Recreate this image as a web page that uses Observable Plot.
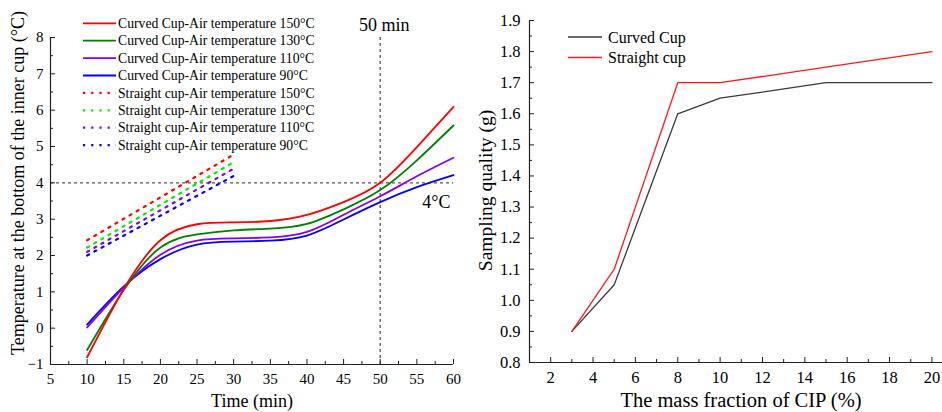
<!DOCTYPE html>
<html><head><meta charset="utf-8">
<script src="https://cdn.jsdelivr.net/npm/d3@7"></script>
<script src="https://cdn.jsdelivr.net/npm/@observablehq/plot@0.6"></script>
<style>
body{margin:0;background:#fff;}
#wrap{display:flex;width:942px;height:412px;overflow:hidden;}
</style></head><body><div id="wrap"><div id="left"></div><div id="right"></div></div>
<script>
// ---------- Left panel data ----------
const timeMin = [10, 15, 20, 25, 30, 35, 40, 45, 50, 55, 60];
const curved150 = [-0.8, 1.08, 2.42, 2.86, 2.91, 2.95, 3.12, 3.47, 4.0, 4.98, 6.09];
const curved130 = [-0.6, 1.05, 2.22, 2.58, 2.69, 2.74, 2.87, 3.27, 3.8, 4.62, 5.58];
const curved110 = [0.02, 1.12, 2.02, 2.41, 2.47, 2.5, 2.65, 3.12, 3.63, 4.18, 4.69];
const curved90  = [0.1, 1.15, 1.9, 2.3, 2.38, 2.41, 2.55, 2.99, 3.47, 3.88, 4.21];
const straightTime = [10, 30];
const straight150 = [2.42, 4.78];
const straight130 = [2.22, 4.57];
const straight110 = [2.1, 4.39];
const straight90  = [2.0, 4.19];
const leftXTicks = [5, 10, 15, 20, 25, 30, 35, 40, 45, 50, 55, 60];
const leftYTicks = [-1, 0, 1, 2, 3, 4, 5, 6, 7, 8];
const refTime = 50, refTemp = 4;
const leftLegend = [
  "Curved Cup-Air temperature 150°C", "Curved Cup-Air temperature 130°C",
  "Curved Cup-Air temperature 110°C", "Curved Cup-Air temperature 90°C",
  "Straight cup-Air temperature 150°C", "Straight cup-Air temperature 130°C",
  "Straight cup-Air temperature 110°C", "Straight cup-Air temperature 90°C"
];
const curvedColors = ["#ff0000", "#008000", "#8000ff", "#0000ff"];
const straightColors = ["#ff0000", "#00ee00", "#8000ff", "#0000ff"];

// ---------- Right panel data ----------
const cipFraction = [3, 5, 8, 10, 15, 20];
const curvedCupMass = [0.9, 1.05, 1.6, 1.65, 1.7, 1.7];
const straightCupMass = [0.9, 1.1, 1.7, 1.7, 1.75, 1.8];
const rightXTicks = [2, 4, 6, 8, 10, 12, 14, 16, 18, 20];
const rightYTicks = [0.8, 0.9, 1.0, 1.1, 1.2, 1.3, 1.4, 1.5, 1.6, 1.7, 1.8, 1.9];
const rightLegend = ["Curved Cup", "Straight cup"];
const rightColors = ["#3a3a3a", "#ff1a1a"];

const FONT = "'Liberation Serif','Times New Roman',serif";
const AX = "#222";

function toRows(xs, ys) { return xs.map((x, i) => ({x, y: ys[i]})); }
const minus = d => d < 0 ? "\u2212" + Math.abs(d) : String(d);

function addLegend(svg, items, o) {
  const g = d3.select(svg).append("g").attr("text-anchor", "start");
  items.forEach((it, i) => {
    const y = o.y0 + i * o.dy;
    g.append("line").attr("x1", o.x0).attr("x2", o.x1).attr("y1", y).attr("y2", y)
      .attr("stroke", it.color).attr("stroke-width", it.width)
      .attr("stroke-dasharray", it.dash || null);
    g.append("text").attr("x", o.tx).attr("y", y).attr("dy", "0.35em")
      .attr("text-anchor", "start")
      .attr("font-size", o.fontSize).attr("font-family", FONT).attr("fill", "#000")
      .text(it.label);
  });
}

// ---------- Left plot ----------
const curvedSets = [curved150, curved130, curved110, curved90];
const straightSets = [straight150, straight130, straight110, straight90];
const leftMinorX = d3.range(7.5, 60, 5);
const leftMinorY = d3.range(-0.5, 8, 1);

const left = Plot.plot({
  width: 470, height: 412,
  marginLeft: 50, marginRight: 17, marginTop: 37, marginBottom: 48,
  x: {domain: [5, 60]},
  y: {domain: [-1, 8]},
  style: {fontFamily: FONT, fontSize: "15px", color: "#000", background: "#fff"},
  marks: [
    Plot.ruleY([refTemp], {stroke: "#555", strokeWidth: 1.3, strokeDasharray: "3,3"}),
    Plot.ruleX([refTime], {stroke: "#555", strokeWidth: 1.3, strokeDasharray: "3,3"}),
    ...straightSets.map((s, i) => Plot.line(toRows(straightTime, s), {x: "x", y: "y", stroke: straightColors[i], strokeWidth: 2.2, strokeDasharray: "2.2,6"})),
    ...curvedSets.map((s, i) => Plot.line(toRows(timeMin, s), {x: "x", y: "y", stroke: curvedColors[i], strokeWidth: 1.8, curve: "natural"})).reverse(),
    Plot.ruleX([5], {stroke: AX, strokeWidth: 1.2}),
    Plot.ruleY([-1], {stroke: AX, strokeWidth: 1.2}),
    Plot.axisX(leftXTicks, {tickSize: 0, tickPadding: 9, label: null, fontSize: 15}),
    Plot.axisX(leftXTicks, {tickSize: -5, tickFormat: () => "", label: null, stroke: AX}),
    Plot.axisX(leftMinorX, {tickSize: -3, tickFormat: () => "", label: null, stroke: AX}),
    Plot.axisY(leftYTicks, {tickSize: 0, tickPadding: 7, label: null, fontSize: 15, tickFormat: minus}),
    Plot.axisY(leftYTicks, {tickSize: -5, tickFormat: () => "", label: null, stroke: AX}),
    Plot.axisY(leftMinorY, {tickSize: -3, tickFormat: () => "", label: null, stroke: AX}),
    Plot.text(["Time (min)"], {frameAnchor: "bottom", lineAnchor: "middle", textAnchor: "middle", dy: 37, fontSize: 18}),
    Plot.text(["Temperature at the bottom of the inner cup (°C)"], {frameAnchor: "left", textAnchor: "middle", lineAnchor: "middle", rotate: -90, dx: -32, dy: -18, fontSize: 18}),
    Plot.text([{x: refTime, y: 8, t: "50 min"}], {x: "x", y: "y", text: "t", dx: 4, dy: -12, fontSize: 18}),
    Plot.text([{x: 60, y: refTemp, t: "4°C"}], {x: "x", y: "y", text: "t", textAnchor: "end", dx: -3, dy: 19, fontSize: 18})
  ]
});
addLegend(left, leftLegend.map((label, i) => i < 4
  ? {label, color: curvedColors[i], width: 1.8}
  : {label, color: straightColors[i - 4], width: 2.2, dash: "2.2,6"}),
  {x0: 83, x1: 116, tx: 118, y0: 23.3, dy: 17.4, fontSize: "13.7px"});
document.getElementById("left").appendChild(left);

// ---------- Right plot ----------
const rightMinorX = d3.range(1, 21, 2);
const rightMinorY = d3.range(0.85, 1.9, 0.1);
const right = Plot.plot({
  width: 472, height: 412,
  marginLeft: 59, marginRight: 0, marginTop: 20, marginBottom: 50,
  x: {domain: [1, 20.5]},
  y: {domain: [0.8, 1.9]},
  style: {fontFamily: FONT, fontSize: "16px", color: "#000", background: "#fff"},
  marks: [
    Plot.line(toRows(cipFraction, curvedCupMass), {x: "x", y: "y", stroke: rightColors[0], strokeWidth: 1.3}),
    Plot.line(toRows(cipFraction, straightCupMass), {x: "x", y: "y", stroke: rightColors[1], strokeWidth: 1.3}),
    Plot.ruleX([1], {stroke: AX, strokeWidth: 1.2}),
    Plot.ruleY([0.8], {stroke: AX, strokeWidth: 1.2}),
    Plot.axisX(rightXTicks, {tickSize: 0, tickPadding: 9, label: null, fontSize: 16.5}),
    Plot.axisX(rightXTicks, {tickSize: -5, tickFormat: () => "", label: null, stroke: AX}),
    Plot.axisX(rightMinorX, {tickSize: -3, tickFormat: () => "", label: null, stroke: AX}),
    Plot.axisY(rightYTicks, {tickSize: 0, tickPadding: 9, label: null, fontSize: 16.5, tickFormat: d3.format(".1f")}),
    Plot.axisY(rightYTicks, {tickSize: -5, tickFormat: () => "", label: null, stroke: AX}),
    Plot.axisY(rightMinorY, {tickSize: -3, tickFormat: () => "", label: null, stroke: AX}),
    Plot.text(["The mass fraction of CIP (%)"], {frameAnchor: "bottom", lineAnchor: "middle", textAnchor: "middle", dx: 5, dy: 38, fontSize: 20.5}),
    Plot.text(["Sampling quality (g)"], {frameAnchor: "left", textAnchor: "middle", lineAnchor: "middle", rotate: -90, dx: -44, dy: -1, fontSize: 19.5})
  ]
});
addLegend(right, rightLegend.map((label, i) => ({label, color: rightColors[i], width: 1.3})),
  {x0: 98, x1: 132, tx: 138, y0: 37, dy: 20.5, fontSize: "16px"});
document.getElementById("right").appendChild(right);
</script></body></html>
